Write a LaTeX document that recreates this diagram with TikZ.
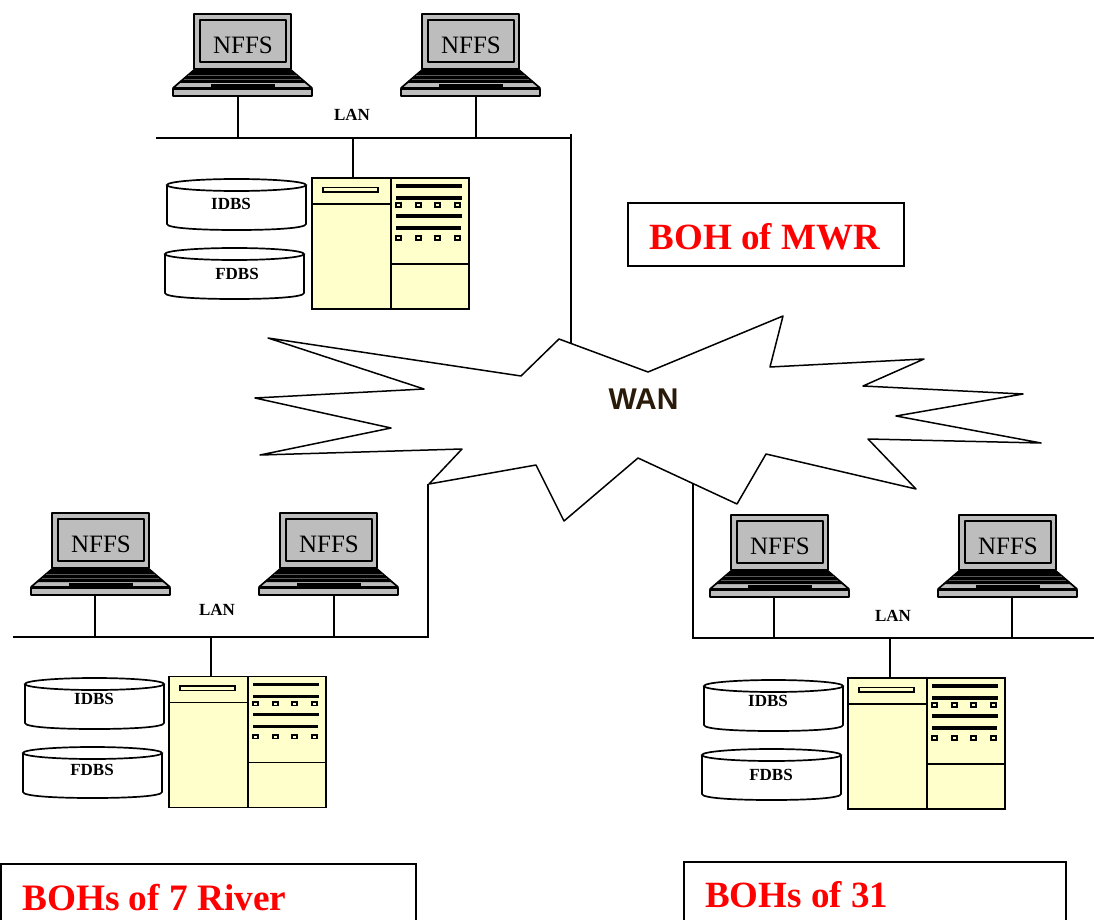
\documentclass[tikz,border=0pt]{standalone}
\usepackage{fontspec}
\setmainfont{Liberation Serif}
\newfontfamily\wanfont{Liberation Sans}
\definecolor{srvfill}{HTML}{FFFFCC}
\definecolor{lapgray}{HTML}{BDBDBD}
\definecolor{wanbrown}{HTML}{2A1A08}
\tikzset{
  x=1pt,y=-1pt,
  wire/.style={draw=black,line width=1.3pt},
  lapline/.style={draw=black,line width=1.7pt,line join=round},
  srvline/.style={draw=black,line width=1.8pt,fill=srvfill},
  cylline/.style={draw=black,line width=1.7pt},
  nffstext/.style={font=\fontsize{25}{27}\selectfont,inner sep=0pt},
  smalllabel/.style={font=\fontsize{17}{19}\selectfont\bfseries,inner sep=0pt},
  redtext/.style={font=\fontsize{37}{40}\selectfont\bfseries,text=red,inner sep=0pt},
  captionline/.style={draw=black,line width=1.3pt},
  pics/laptop/.style={code={
    \draw[lapline,fill=lapgray] (21,0) rectangle (118,55);
    \draw[lapline,fill=lapgray] (27,6) rectangle (113,48);
    \node[nffstext] (-label) at (70,31.5) {NFFS};
    \draw[lapline,fill=lapgray] (21,56) -- (118,56) -- (139,74) -- (0,74) -- cycle;
    \fill[black] (21,56) -- (118,56) -- (134,69) -- (5,69) -- cycle;
    \draw[black!65,line width=0.4pt] (15,61) -- (124,61) (11,65) -- (128,65);
    \fill[black] (38,70) rectangle (102,73);
    \draw[lapline,fill=lapgray] (0,75) rectangle (139,82);
    \coordinate (-base) at (70,82);
  }},
  pics/server/.style={code={
    \draw[srvline] (0,0) rectangle (157,131);
    \draw[srvline,fill=none] (79,0) -- (79,131) (0,26) -- (79,26) (79,86) -- (157,86);
    \draw[srvline,line width=1.5pt] (11,9.5) rectangle (66,14);
    \foreach \yy/\xe in {8/150,20/150,38/150,50/149}
      \fill[black] (84,\yy-1.8) rectangle (\xe,\yy+1.8);
    \foreach \yy in {27,60}
      \foreach \xx in {84,104,123,143}
        \draw[line width=1.6pt] (\xx,\yy-1.8) rectangle ++(5,3.6);
    \coordinate (-top) at (40,0);
  }},
  pics/dbcyl/.style={code={
    \draw[cylline] (0,6) -- (0,45)
      .. controls (0,49) and (30,51) .. (69.5,51)
      .. controls (109,51) and (139,49) .. (139,45) -- (139,6);
    \draw[cylline] (69.5,6) circle [x radius=69.5pt,y radius=6pt];
  }},
}
\begin{document}
\begin{tikzpicture}
\useasboundingbox (0,0) rectangle (1094,920);

% WAN cloud
\draw[line width=1.5pt,line join=round] (268,338) -- (521,376) -- (559,339) -- (648,372) -- (783,316) -- (770,367) -- (924,359) -- (863,386) -- (1023,394) -- (896,416) -- (1041,443) -- (868,439) -- (916,489) -- (766,454) -- (737,504) -- (638,458) -- (564,521) -- (536,465) -- (429,484) -- (462,449) -- (260,455) -- (391,428) -- (255,398) -- (424,389) -- cycle;
\node[font=\wanfont\fontsize{30}{32}\selectfont\bfseries,text=wanbrown,inner sep=0pt] (wan) at (643.5,399) {WAN};
\coordinate (wanA) at (571,343);
\coordinate (wanB) at (428,484);
\coordinate (wanC) at (693,484);

% Top site
\pic (ta) at (173,14) {laptop};
\pic (tb) at (401,14) {laptop};
\pic (ts) at (312,178) {server};
\pic (ti) at (167,179) {dbcyl};
\pic (tf) at (165,248) {dbcyl};
\node[smalllabel] (tilabel) at (231,204) {IDBS};
\node[smalllabel] (tflabel) at (237,274) {FDBS};
\node[smalllabel] (tlan) at (352,115) {LAN};
\coordinate (tbusL) at (156,138);
\coordinate (tbusR) at (571,138);
\coordinate (tup) at (571,134);
\coordinate (tda) at (238,138);
\coordinate (tdb) at (476,138);
\coordinate (tdc) at (353,138);
\draw[wire] (tbusL) -- (tbusR);
\draw[wire] (tup) -- (wanA);
\draw[wire] (tda) -- (tda |- ta-base);
\draw[wire] (tdb) -- (tdb |- tb-base);
\draw[wire] (tdc) -- (tdc |- ts-top);

% Left site
\pic (la) at (31,513) {laptop};
\pic (lb) at (259,513) {laptop};
\pic (ls) at (169,676.5) {server};
\pic (li) at (25,678) {dbcyl};
\pic (lf) at (23,747) {dbcyl};
\node[smalllabel] (lilabel) at (94,699) {IDBS};
\node[smalllabel] (lflabel) at (92,770) {FDBS};
\node[smalllabel] (llan) at (217,610) {LAN};
\coordinate (lbusL) at (13,637);
\coordinate (lbusR) at (428,637);
\coordinate (lda) at (95,637);
\coordinate (ldb) at (334,637);
\coordinate (ldc) at (211,637);
\draw[wire,line join=miter] (lbusL) -- (lbusR) -- (wanB);
\draw[wire] (lda) -- (lda |- la-base);
\draw[wire] (ldb) -- (ldb |- lb-base);
\draw[wire] (ldc) -- (ldc |- ls-top);

% Right site
\pic (ra) at (710,515) {laptop};
\pic (rb) at (938,515) {laptop};
\pic (rs) at (848,678) {server};
\pic (ri) at (704,680) {dbcyl};
\pic (rf) at (702,749) {dbcyl};
\node[smalllabel] (rilabel) at (768,701) {IDBS};
\node[smalllabel] (rflabel) at (771,775) {FDBS};
\node[smalllabel] (rlan) at (893,616) {LAN};
\coordinate (rbusL) at (693,638);
\coordinate (rbusR) at (1094,638);
\coordinate (rda) at (774,638);
\coordinate (rdb) at (1012,638);
\coordinate (rdc) at (890,638);
\draw[wire,line join=miter] (wanC) -- (rbusL) -- (rbusR);
\draw[wire] (rda) -- (rda |- ra-base);
\draw[wire] (rdb) -- (rdb |- rb-base);
\draw[wire] (rdc) -- (rdc |- rs-top);

% Captions
\node[draw=black,line width=1.3pt,minimum width=276pt,minimum height=63pt,inner sep=0pt] (capA) at (766,234.5) {};
\node[redtext] (capAtext) at (765,237) {BOH of MWR};
\draw[captionline] (1,925) -- (1,864) -- (416,864) -- (416,925);
\node[redtext,anchor=base west,font=\fontsize{37.3}{40}\selectfont\bfseries] (capBtext) at (22,910) {BOHs of 7 River};
\draw[captionline] (684,925) -- (684,862) -- (1066,862) -- (1066,925);
\node[redtext,anchor=base west] (capCtext) at (705,907) {BOHs of 31};
\end{tikzpicture}
\end{document}
